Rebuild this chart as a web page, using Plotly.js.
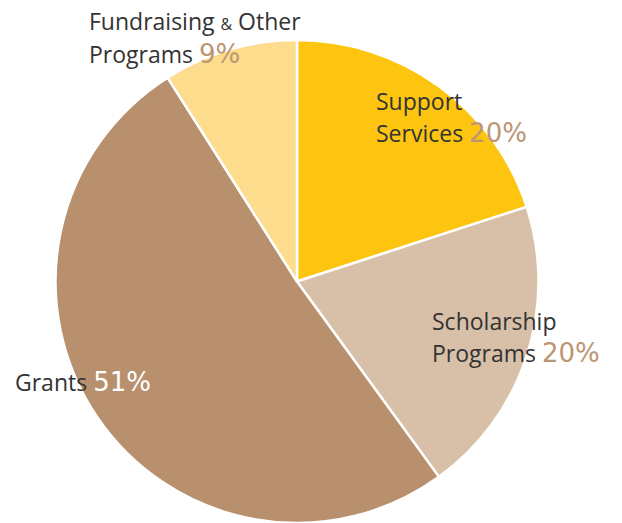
<!DOCTYPE html>
<html>
<head>
<meta charset="utf-8">
<script src="https://cdn.plot.ly/plotly-3.0.1.min.js"></script>
<style>html,body{margin:0;padding:0;background:#fff;}#chart{width:622px;height:523px;}</style>
</head>
<body>
<div id="chart"></div>
<script>
const categories = ["Support Services", "Scholarship Programs", "Grants", "Fundraising & Other Programs"];
const values = [20, 20, 51, 9];
const percentLabels = ["20%", "20%", "51%", "9%"];
const sliceColors = ["#FDC50F", "#D8C0A8", "#B8906D", "#FEDC8E"];

const W = 622, H = 523;
const px = x => x / W;
const py = y => 1 - y / H;
const labelFont = {family: "'Open Sans', sans-serif", size: 23, color: "#333333"};
const pct = (t, c) => `<span style="font-family:'DejaVu Sans';font-size:26px;color:${c}">${t}</span>`;
const amp = '<span style="font-size:16px">&amp;</span>';
const pctColor = "#BC9572";

const annotations = [
  {x: px(87), y: py(21), text: "Fundraising " + amp + " Other"},
  {x: px(87), y: py(54), text: "Programs " + pct(percentLabels[3], pctColor)},
  {x: px(374), y: py(101), text: "Support"},
  {x: px(374), y: py(133), text: "Services " + pct(percentLabels[0], pctColor)},
  {x: px(430), y: py(321), text: "Scholarship"},
  {x: px(430), y: py(353), text: "Programs " + pct(percentLabels[1], pctColor)},
  {x: px(13), y: py(382), text: "Grants " + pct(percentLabels[2], "#FFFFFF")}
].map(a => Object.assign({xref: "paper", yref: "paper", xanchor: "left", yanchor: "middle", showarrow: false, font: labelFont}, a));

const data = [{
  type: "pie",
  labels: categories,
  values: values,
  marker: {colors: sliceColors, line: {color: "#FFFFFF", width: 2.5}},
  sort: false,
  direction: "clockwise",
  rotation: 0,
  textinfo: "none",
  hoverinfo: "label+percent",
  domain: {x: [55 / W, 539 / W], y: [0, 483 / H]}
}];

const layout = {
  width: W, height: H,
  margin: {l: 0, r: 0, t: 0, b: 0},
  showlegend: false,
  paper_bgcolor: "#FFFFFF",
  annotations: annotations
};

Plotly.newPlot("chart", data, layout, {displayModeBar: false, staticPlot: true});
</script>
</body>
</html>
